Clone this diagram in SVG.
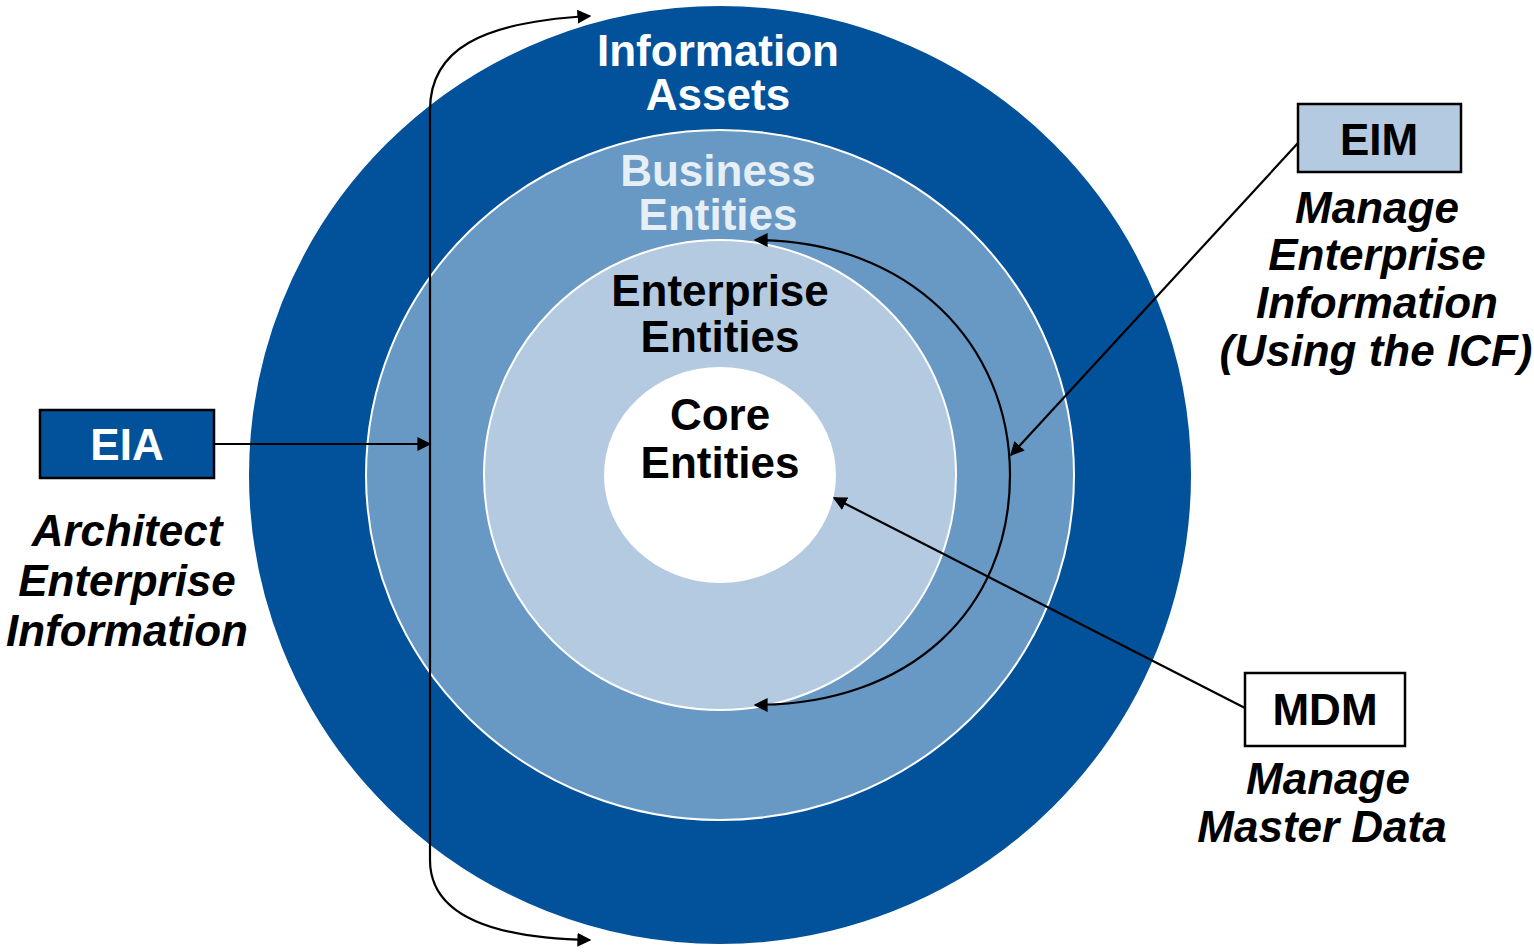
<svg xmlns="http://www.w3.org/2000/svg" width="1534" height="952" viewBox="0 0 1534 952">
<defs>
<marker id="ah" viewBox="0 0 10 10" refX="9" refY="5" markerWidth="14" markerHeight="14" markerUnits="userSpaceOnUse" orient="auto-start-reverse">
<path d="M0,0 L10,5 L0,10 z" fill="#000"/>
</marker>
<style>
.t{font-family:"Liberation Sans",Arial,sans-serif;font-weight:bold;font-size:44px;text-anchor:middle}
.i{font-style:italic;fill:#000}
.w{fill:#fff}
.k{fill:#000}
.ring{stroke:#fff;stroke-width:2}
.box{stroke:#000;stroke-width:2.5}
.c{fill:none;stroke:#000;stroke-width:2.2}
</style>
</defs>
<rect width="1534" height="952" fill="#fff"/>
<g id="information-assets">
<ellipse class="ring" cx="720" cy="475" rx="472" ry="470" fill="#01519B" stroke="none"/>
<text class="t w" x="718" y="66">Information</text>
<text class="t w" x="718" y="110">Assets</text>
</g>
<g id="business-entities">
<ellipse class="ring" cx="720" cy="475" rx="354" ry="345" fill="#6898C4"/>
<text class="t" x="718" y="186" fill="#E6EEF6">Business</text>
<text class="t" x="718" y="230" fill="#E6EEF6">Entities</text>
</g>
<g id="enterprise-entities">
<ellipse class="ring" cx="720" cy="475" rx="236" ry="235" fill="#B3CAE0"/>
<text class="t k" x="720" y="306">Enterprise</text>
<text class="t k" x="720" y="352">Entities</text>
</g>
<g id="core-entities">
<ellipse cx="720" cy="475" rx="116" ry="108" fill="#fff"/>
<text class="t k" x="720" y="430">Core</text>
<text class="t k" x="720" y="478">Entities</text>
</g>
<g id="eia">
<rect class="box" x="40" y="410" width="174" height="68" fill="#01519B"/>
<text class="t w" x="127" y="460" font-size="42">EIA</text>
<text class="t i" x="127" y="546">Architect</text>
<text class="t i" x="127" y="596">Enterprise</text>
<text class="t i" x="127" y="646">Information</text>
</g>
<g id="eim">
<rect class="box" x="1298" y="104" width="163" height="68" fill="#B3CAE0"/>
<text class="t k" x="1379" y="155" font-size="42">EIM</text>
<text class="t i" x="1377" y="223">Manage</text>
<text class="t i" x="1377" y="270">Enterprise</text>
<text class="t i" x="1377" y="318">Information</text>
<text class="t i" x="1376" y="366" font-size="43">(Using the ICF)</text>
</g>
<g id="mdm">
<rect class="box" x="1245" y="673" width="160" height="73" fill="#fff"/>
<text class="t k" x="1325" y="725" font-size="42">MDM</text>
<text class="t i" x="1328" y="794">Manage</text>
<text class="t i" x="1322" y="842">Master Data</text>
</g>
<g id="connectors">
<path class="c" d="M590,16 C480,22 430,50 430,110 L430,860 C430,910 480,938 590,940" marker-start="url(#ah)" marker-end="url(#ah)"/>
<path class="c" d="M214,444 L430,444" marker-end="url(#ah)"/>
<path class="c" d="M755,240 C910,240 1010,345 1010,475 C1010,610 910,705 755,705" marker-start="url(#ah)" marker-end="url(#ah)"/>
<path class="c" d="M1298,143 L1011,455" marker-end="url(#ah)"/>
<path class="c" d="M1245,708 L834,498" marker-end="url(#ah)"/>
</g>
</svg>
